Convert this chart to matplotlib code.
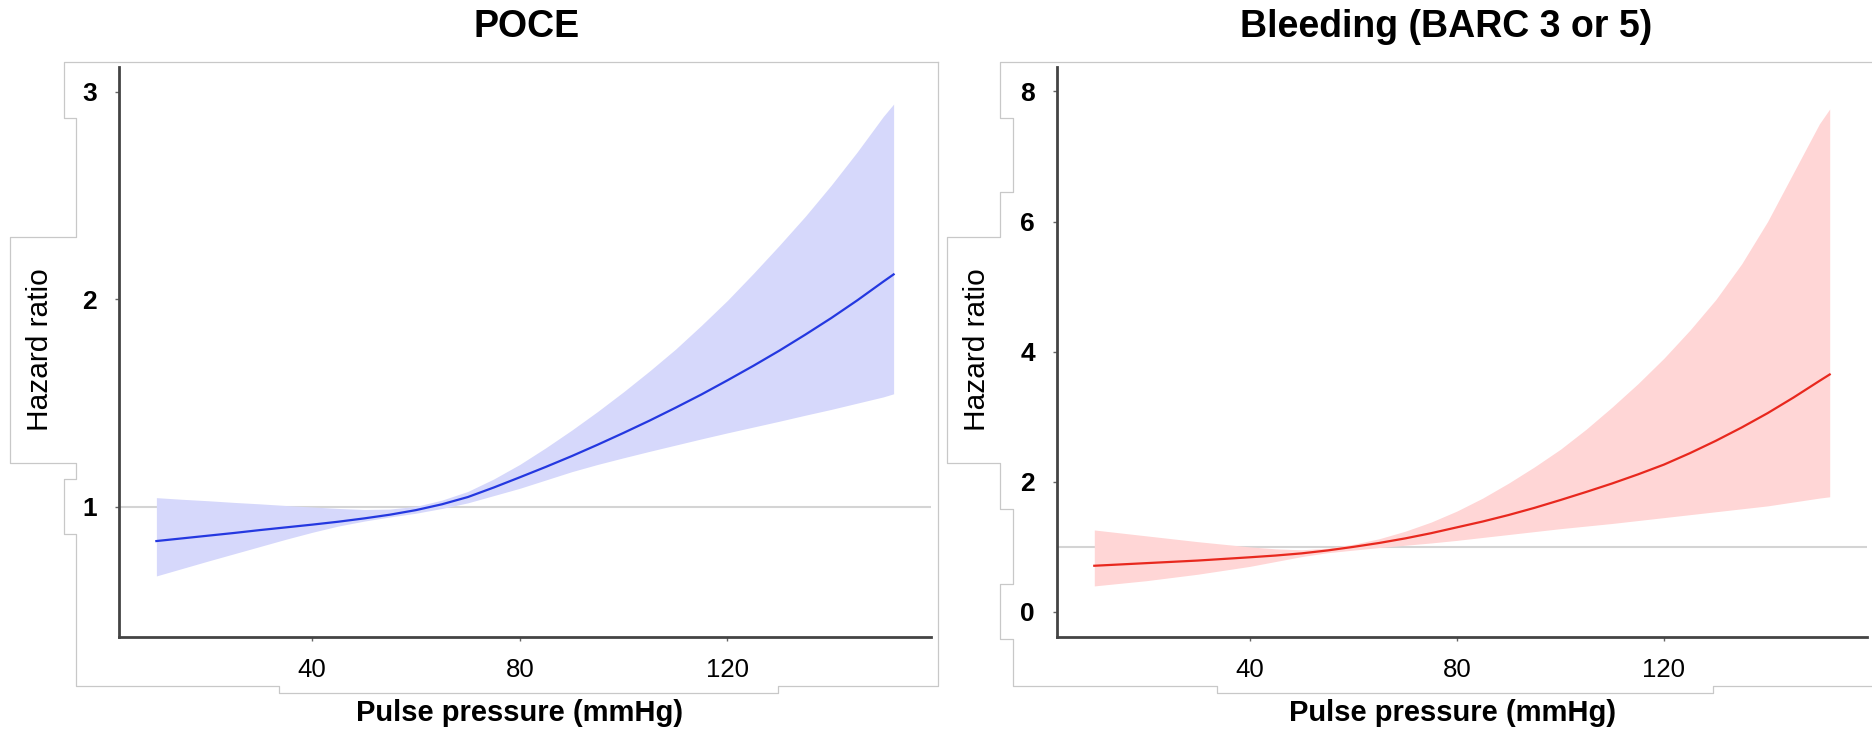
import matplotlib
matplotlib.use("Agg")
import matplotlib.pyplot as plt
from matplotlib import font_manager
from matplotlib.lines import Line2D

# pulse pressure grid (mmHg)
pp = [10, 15, 20, 25, 30, 35, 40, 45, 50, 55, 60, 65, 70, 75, 80, 85, 90, 95,
      100, 105, 110, 115, 120, 125, 130, 135, 140, 145, 150, 152]

# POCE: hazard ratio and 95% CI
poce_hr = [0.836, 0.849, 0.862, 0.875, 0.889, 0.902, 0.915, 0.929, 0.945, 0.963,
           0.985, 1.013, 1.048, 1.094, 1.143, 1.193, 1.245, 1.30, 1.357, 1.416,
           1.478, 1.542, 1.61, 1.68, 1.753, 1.83, 1.91, 1.995, 2.085, 2.12]
poce_hi = [1.045, 1.037, 1.03, 1.022, 1.015, 1.007, 1.0, 0.993, 0.988, 0.99,
           1.003, 1.033, 1.075, 1.135, 1.205, 1.285, 1.37, 1.46, 1.555, 1.655,
           1.76, 1.875, 1.995, 2.125, 2.26, 2.40, 2.55, 2.71, 2.88, 2.94]
poce_lo = [0.668, 0.704, 0.74, 0.775, 0.81, 0.845, 0.878, 0.908, 0.932, 0.952,
           0.97, 0.993, 1.02, 1.055, 1.09, 1.13, 1.17, 1.205, 1.237, 1.268,
           1.298, 1.328, 1.357, 1.385, 1.413, 1.442, 1.47, 1.50, 1.53, 1.545]

# Bleeding (BARC 3 or 5): hazard ratio and 95% CI
bleed_hr = [0.71, 0.73, 0.75, 0.77, 0.79, 0.815, 0.84, 0.867, 0.90, 0.945,
            1.0, 1.06, 1.13, 1.21, 1.30, 1.39, 1.49, 1.60, 1.72, 1.845,
            1.975, 2.115, 2.265, 2.44, 2.63, 2.835, 3.055, 3.295, 3.55, 3.65]
bleed_hi = [1.26, 1.215, 1.17, 1.125, 1.08, 1.04, 1.0, 0.97, 0.955, 0.98,
            1.04, 1.125, 1.24, 1.38, 1.55, 1.75, 1.98, 2.23, 2.5, 2.81,
            3.15, 3.51, 3.9, 4.33, 4.8, 5.35, 6.0, 6.75, 7.5, 7.73]
bleed_lo = [0.40, 0.44, 0.48, 0.53, 0.58, 0.64, 0.70, 0.775, 0.85, 0.91,
            0.95, 0.99, 1.025, 1.06, 1.10, 1.145, 1.19, 1.235, 1.28, 1.32,
            1.36, 1.405, 1.45, 1.495, 1.54, 1.585, 1.63, 1.69, 1.75, 1.77]

W, H = 1872, 734
installed = {f.name for f in font_manager.fontManager.ttflist}
narrow = 'Liberation Sans Narrow' if 'Liberation Sans Narrow' in installed else 'Liberation Sans'
plt.rcParams['font.family'] = ['Liberation Sans', 'DejaVu Sans']

fig = plt.figure(figsize=(W / 100, H / 100), dpi=100)


def px_axes(x0, x1, ytop, ybot):
    return fig.add_axes([x0 / W, 1 - ybot / H, (x1 - x0) / W, (ybot - ytop) / H])


def outline(points):
    # thin grey text-box outline, points given in pixels from the top left
    xs = [p[0] / W for p in points]
    ys = [1 - p[1] / H for p in points]
    fig.add_artist(Line2D(xs, ys, transform=fig.transFigure, color='#c8c8c8', lw=0.9))


def style(ax, yticks, ylim):
    ax.set_xlim(2.8, 159.2)
    ax.set_ylim(*ylim)
    ax.set_xticks([40, 80, 120])
    ax.set_yticks(yticks)
    for s in ['top', 'right']:
        ax.spines[s].set_visible(False)
    for s in ['left', 'bottom']:
        ax.spines[s].set_color('#444444')
        ax.spines[s].set_linewidth(2.0)
    ax.tick_params(axis='both', direction='out', length=3, width=1, color='#666666')
    ax.tick_params(axis='y', pad=13)
    ax.tick_params(axis='x', pad=12)
    for t in ax.get_yticklabels():
        t.set_fontsize(19)
        t.set_fontweight('bold')
    for t in ax.get_xticklabels():
        t.set_fontsize(18.5)
        t.set_family([narrow, 'DejaVu Sans'])
    ax.axhline(1, color='#d4d4d4', lw=1.5, zorder=1)


# left panel
ax1 = px_axes(119, 931, 66.7, 637)
ax1.fill_between(pp, poce_lo, poce_hi, color='#d6d8fb', lw=0, zorder=2)
ax1.plot(pp, poce_hr, color='#2438e0', lw=1.6, zorder=3)
style(ax1, [1, 2, 3], (0.374, 3.12))

# right panel
ax2 = px_axes(1057, 1867, 66.7, 637)
ax2.fill_between(pp, bleed_lo, bleed_hi, color='#ffd6d6', lw=0, zorder=2)
ax2.plot(pp, bleed_hr, color='#e8281e', lw=1.6, zorder=3)
style(ax2, [0, 2, 4, 6, 8], (-0.385, 8.38))

# titles and labels
fig.text(527 / W, 1 - 27 / H, 'POCE', fontsize=27, fontweight='bold', ha='center', va='center')
fig.text(1446 / W, 1 - 27 / H, 'Bleeding (BARC 3 or 5)', fontsize=27, fontweight='bold',
         ha='center', va='center')
for xc in (40, 977):
    fig.text(xc / W, 1 - 350 / H, 'Hazard ratio', fontsize=21.5, rotation=90,
             ha='center', va='center')
for xc in (520, 1453):
    fig.text(xc / W, 1 - 713 / H, 'Pulse pressure (mmHg)', fontsize=21, fontweight='bold',
             family=[narrow, 'DejaVu Sans'], ha='center', va='center')

outline([(938, 62), (64, 62), (64, 118), (76, 118), (76, 237), (10, 237), (10, 463),
         (76, 463), (76, 479), (64, 479), (64, 534), (76, 534), (76, 686), (279, 686),
         (279, 693), (778, 693), (778, 686), (938, 686), (938, 62)])
outline([(1872, 62), (1000, 62), (1000, 118), (1013, 118), (1013, 191.5), (1000, 191.5),
         (1000, 237), (947, 237), (947, 463), (1000, 463), (1000, 509), (1013, 509),
         (1013, 583.6), (1000, 583.6), (1000, 638.5), (1013, 638.5), (1013, 686),
         (1217, 686), (1217, 693), (1713, 693), (1713, 686), (1872, 686)])

fig.savefig('out.png', dpi=100)
